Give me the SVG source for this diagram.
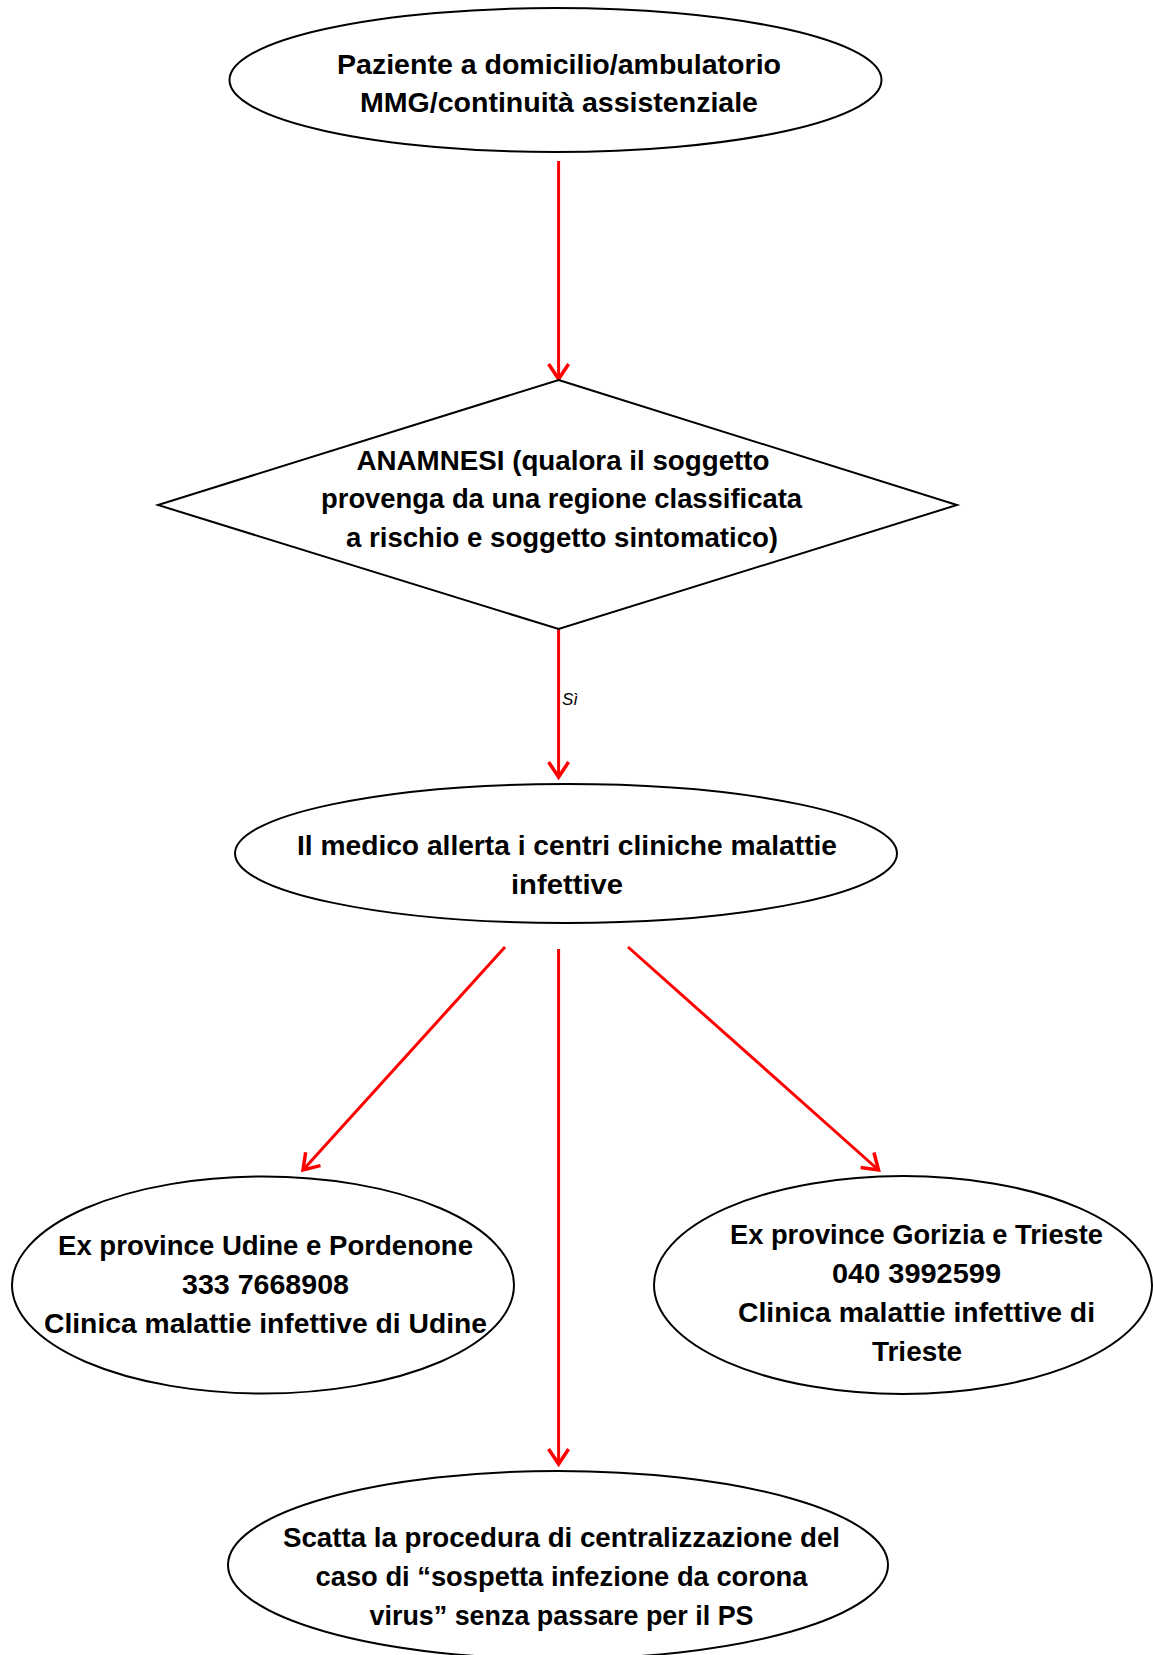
<svg xmlns="http://www.w3.org/2000/svg" width="1153" height="1655" viewBox="0 0 1153 1655">
<style>
.node{fill:#fff;stroke:#000;stroke-width:2}
.t{font-family:"Liberation Sans",Arial,sans-serif;font-weight:bold;font-size:28px;fill:#000;text-anchor:middle}
.lbl{font-family:"Liberation Sans",Arial,sans-serif;font-style:italic;font-size:17px;fill:#000}
.c{stroke:#ff0000;stroke-width:3;fill:none;marker-end:url(#ah)}
</style>
<defs>
<marker id="ah" markerUnits="userSpaceOnUse" markerWidth="24" markerHeight="24" viewBox="0 0 24 24" refX="18" refY="12" orient="auto">
<path d="M3,2 L18,12 L3,22" fill="none" stroke="#ff0000" stroke-width="3.5"/>
</marker>
</defs>
<rect width="1153" height="1655" fill="#fff"/>
<g id="connectors">
<line class="c" x1="558.6" y1="161" x2="558.6" y2="379"/>
<line class="c" x1="558.6" y1="629" x2="558.6" y2="777"/>
<text class="lbl" x="562" y="705">Sì</text>
<line class="c" x1="505" y1="947" x2="303" y2="1170"/>
<line class="c" x1="558.6" y1="949" x2="558.6" y2="1464"/>
<line class="c" x1="628" y1="947" x2="878.5" y2="1170"/>
</g>
<g id="n1">
<ellipse class="node" cx="555.5" cy="80" rx="326" ry="72"/>
<text class="t" x="559" y="74" textLength="444" lengthAdjust="spacingAndGlyphs">Paziente a domicilio/ambulatorio</text>
<text class="t" x="559" y="112" textLength="398" lengthAdjust="spacingAndGlyphs">MMG/continuità assistenziale</text>
</g>
<g id="n2">
<polygon class="node" points="558.6,380 957,505 558.6,629 158,505"/>
<text class="t" x="563" y="470" textLength="413" lengthAdjust="spacingAndGlyphs">ANAMNESI (qualora il soggetto</text>
<text class="t" x="561.5" y="508" textLength="481" lengthAdjust="spacingAndGlyphs">provenga da una regione classificata</text>
<text class="t" x="562" y="547" textLength="432" lengthAdjust="spacingAndGlyphs">a rischio e soggetto sintomatico)</text>
</g>
<g id="n3">
<ellipse class="node" cx="566" cy="853.5" rx="331" ry="69.5"/>
<text class="t" x="567" y="855" textLength="540" lengthAdjust="spacingAndGlyphs">Il medico allerta i centri cliniche malattie</text>
<text class="t" x="567" y="894" textLength="112" lengthAdjust="spacingAndGlyphs">infettive</text>
</g>
<g id="n4">
<ellipse class="node" cx="263" cy="1285" rx="251" ry="108.5"/>
<text class="t" x="265.5" y="1255" textLength="415" lengthAdjust="spacingAndGlyphs">Ex province Udine e Pordenone</text>
<text class="t" x="265.5" y="1294" textLength="167" lengthAdjust="spacingAndGlyphs">333 7668908</text>
<text class="t" x="265.5" y="1333" textLength="443" lengthAdjust="spacingAndGlyphs">Clinica malattie infettive di Udine</text>
</g>
<g id="n5">
<ellipse class="node" cx="903" cy="1285" rx="249" ry="109"/>
<text class="t" x="916.5" y="1244" textLength="373" lengthAdjust="spacingAndGlyphs">Ex province Gorizia e Trieste</text>
<text class="t" x="916.5" y="1283" textLength="169" lengthAdjust="spacingAndGlyphs">040 3992599</text>
<text class="t" x="916.5" y="1322" textLength="357" lengthAdjust="spacingAndGlyphs">Clinica malattie infettive di</text>
<text class="t" x="917" y="1361" textLength="90" lengthAdjust="spacingAndGlyphs">Trieste</text>
</g>
<g id="n6">
<ellipse class="node" cx="558" cy="1565" rx="330" ry="94"/>
<text class="t" x="561.5" y="1547" textLength="557" lengthAdjust="spacingAndGlyphs">Scatta la procedura di centralizzazione del</text>
<text class="t" x="561.5" y="1586" textLength="492" lengthAdjust="spacingAndGlyphs">caso di “sospetta infezione da corona</text>
<text class="t" x="561.5" y="1625" textLength="384" lengthAdjust="spacingAndGlyphs">virus” senza passare per il PS</text>
</g>
</svg>
